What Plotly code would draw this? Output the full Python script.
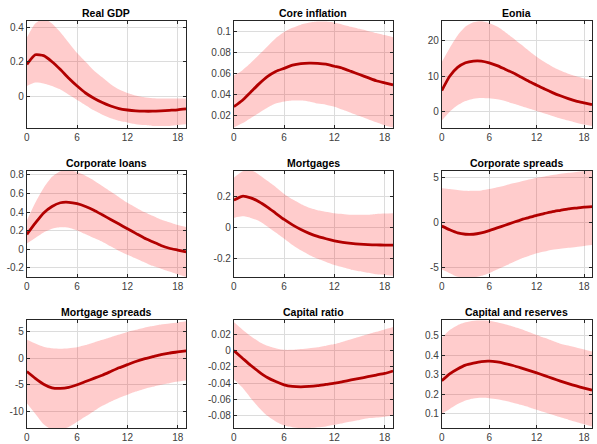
import plotly.graph_objects as go

horizon = list(range(20))

titles = ["Real GDP", "Core inflation", "Eonia",
          "Corporate loans", "Mortgages", "Corporate spreads",
          "Mortgage spreads", "Capital ratio", "Capital and reserves"]

gdp_mid = [0.185, 0.24, 0.235, 0.2, 0.155, 0.105, 0.06, 0.02, -0.01, -0.035, -0.055, -0.07, -0.078, -0.083, -0.085, -0.085, -0.083, -0.08, -0.077, -0.072]
gdp_hi = [0.34, 0.42, 0.45, 0.42, 0.37, 0.31, 0.25, 0.2, 0.15, 0.11, 0.07, 0.04, 0.02, 0.005, -0.005, -0.01, -0.012, -0.012, -0.012, -0.012]
gdp_lo = [0.06, 0.08, 0.075, 0.06, 0.04, 0.01, -0.02, -0.05, -0.08, -0.105, -0.125, -0.14, -0.15, -0.16, -0.165, -0.17, -0.17, -0.17, -0.165, -0.16]

inf_mid = [0.028, 0.034, 0.042, 0.05, 0.057, 0.062, 0.065, 0.068, 0.0695, 0.07, 0.0698, 0.069, 0.067, 0.065, 0.062, 0.059, 0.056, 0.053, 0.051, 0.049]
inf_hi = [0.058, 0.063, 0.07, 0.078, 0.086, 0.094, 0.1, 0.104, 0.107, 0.109, 0.11, 0.11, 0.109, 0.107, 0.105, 0.103, 0.101, 0.099, 0.097, 0.095]
inf_lo = [0.008, 0.012, 0.017, 0.022, 0.027, 0.031, 0.033, 0.034, 0.034, 0.033, 0.031, 0.03, 0.028, 0.025, 0.022, 0.019, 0.016, 0.013, 0.01, 0.008]

eon_mid = [6, 10, 12.5, 13.8, 14.3, 14.3, 13.8, 13, 12, 11, 9.8, 8.6, 7.5, 6.4, 5.4, 4.5, 3.7, 3, 2.5, 2]
eon_hi = [14, 18, 21.5, 24, 25.2, 25.5, 25, 24, 22.5, 20.8, 19, 17.2, 15.5, 14, 12.7, 11.6, 10.7, 10, 9.4, 9]
eon_lo = [-2.5, 0, 1.8, 3, 3.7, 3.9, 3.8, 3.5, 3, 2.3, 1.6, 0.9, 0.2, -0.5, -1.2, -1.9, -2.5, -3.1, -3.6, -4]

cl_mid = [0.16, 0.28, 0.39, 0.46, 0.5, 0.505, 0.49, 0.46, 0.42, 0.37, 0.32, 0.27, 0.22, 0.17, 0.12, 0.08, 0.04, 0.01, -0.01, -0.03]
cl_hi = [0.31, 0.5, 0.66, 0.78, 0.84, 0.85, 0.83, 0.79, 0.74, 0.68, 0.62, 0.56, 0.5, 0.45, 0.4, 0.36, 0.32, 0.29, 0.26, 0.24]
cl_lo = [0.06, 0.12, 0.18, 0.22, 0.235, 0.23, 0.2, 0.16, 0.12, 0.08, 0.03, -0.02, -0.06, -0.1, -0.14, -0.18, -0.21, -0.24, -0.27, -0.3]

mo_mid = [0.175, 0.2, 0.19, 0.165, 0.13, 0.09, 0.05, 0.015, -0.015, -0.04, -0.06, -0.075, -0.088, -0.098, -0.105, -0.11, -0.113, -0.115, -0.116, -0.116]
mo_hi = [0.32, 0.36, 0.37, 0.34, 0.3, 0.26, 0.215, 0.18, 0.15, 0.125, 0.11, 0.1, 0.09, 0.085, 0.08, 0.08, 0.08, 0.085, 0.088, 0.09]
mo_lo = [0.06, 0.07, 0.06, 0.04, 0.005, -0.035, -0.075, -0.115, -0.15, -0.18, -0.205, -0.225, -0.245, -0.26, -0.275, -0.285, -0.295, -0.305, -0.31, -0.315]

cs_mid = [-0.4, -0.8, -1.15, -1.3, -1.3, -1.15, -0.9, -0.6, -0.3, 0, 0.3, 0.55, 0.8, 1.0, 1.2, 1.35, 1.5, 1.6, 1.7, 1.75]
cs_hi = [3.8, 3.7, 3.6, 3.5, 3.5, 3.55, 3.7, 3.9, 4.1, 4.35, 4.55, 4.75, 4.95, 5.1, 5.25, 5.4, 5.5, 5.6, 5.7, 5.75]
cs_lo = [-5.2, -5.6, -6.0, -6.1, -6.1, -5.9, -5.6, -5.2, -4.8, -4.4, -4.0, -3.7, -3.4, -3.2, -3.0, -2.9, -2.8, -2.7, -2.6, -2.5]

ms_mid = [-2.5, -3.8, -4.9, -5.6, -5.7, -5.5, -5.0, -4.4, -3.8, -3.2, -2.5, -1.8, -1.2, -0.6, -0.1, 0.3, 0.7, 1.0, 1.2, 1.4]
ms_hi = [3.5, 2.8, 2.2, 1.9, 1.8, 1.9, 2.1, 2.5, 3.0, 3.5, 4.0, 4.5, 5.0, 5.4, 5.8, 6.1, 6.4, 6.6, 6.8, 7.0]
ms_lo = [-8.5, -10.5, -12.5, -13.5, -13.5, -13, -12, -11, -10, -9, -8.2, -7.5, -6.9, -6.3, -5.8, -5.4, -5.0, -4.7, -4.4, -4.2]

cr_mid = [0.0, -0.009, -0.018, -0.026, -0.033, -0.038, -0.042, -0.044, -0.0445, -0.044, -0.043, -0.0415, -0.04, -0.038, -0.036, -0.034, -0.032, -0.03, -0.028, -0.025]
cr_hi = [0.035, 0.026, 0.018, 0.011, 0.006, 0.003, 0.001, 0.001, 0.002, 0.003, 0.004, 0.006, 0.008, 0.011, 0.014, 0.017, 0.02, 0.023, 0.026, 0.029]
cr_lo = [-0.035, -0.045, -0.058, -0.07, -0.08, -0.087, -0.092, -0.094, -0.095, -0.095, -0.094, -0.093, -0.091, -0.089, -0.087, -0.085, -0.083, -0.082, -0.081, -0.08]

car_mid = [0.27, 0.305, 0.33, 0.35, 0.36, 0.368, 0.37, 0.366, 0.358, 0.348, 0.336, 0.323, 0.31, 0.296, 0.282, 0.268, 0.255, 0.243, 0.232, 0.222]
car_hi = [0.49, 0.53, 0.555, 0.57, 0.578, 0.58, 0.578, 0.57, 0.56, 0.548, 0.535, 0.52, 0.505, 0.49, 0.475, 0.46, 0.45, 0.44, 0.43, 0.42]
car_lo = [0.1, 0.125, 0.15, 0.168, 0.178, 0.182, 0.18, 0.175, 0.167, 0.157, 0.146, 0.134, 0.121, 0.108, 0.095, 0.082, 0.07, 0.058, 0.046, 0.035]

y_ranges = [[-0.18, 0.435], [0.0078, 0.1106], [-4.5, 25.6],
            [-0.304, 0.846], [-0.325, 0.366], [-6.07, 5.74],
            [-13.2, 7.2], [-0.095, 0.0372], [0.027, 0.58]]
y_ticks = [[0, 0.2, 0.4], [0.02, 0.04, 0.06, 0.08, 0.1], [0, 10, 20],
           [-0.2, 0, 0.2, 0.4, 0.6, 0.8], [-0.2, 0, 0.2], [-5, 0, 5],
           [-10, -5, 0, 5], [-0.08, -0.06, -0.04, -0.02, 0, 0.02], [0.1, 0.2, 0.3, 0.4, 0.5]]
x_ticks = [0, 6, 12, 18]

series = [(gdp_mid, gdp_hi, gdp_lo), (inf_mid, inf_hi, inf_lo), (eon_mid, eon_hi, eon_lo),
          (cl_mid, cl_hi, cl_lo), (mo_mid, mo_hi, mo_lo), (cs_mid, cs_hi, cs_lo),
          (ms_mid, ms_hi, ms_lo), (cr_mid, cr_hi, cr_lo), (car_mid, car_hi, car_lo)]

W, H = 597, 444
col_px = [(24, 184), (232, 392), (441, 592)]
row_px = [(20, 127), (170, 277), (320, 428)]

LINE = "rgb(178,0,0)"
BAND = "rgba(255,0,0,0.2)"
AX = "#262626"
FONT = "Liberation Sans, Arial, sans-serif"

fig = go.Figure()
layout = dict(width=W, height=H, margin=dict(l=0, r=0, t=0, b=0),
              paper_bgcolor="white", plot_bgcolor="white", showlegend=False,
              font=dict(family=FONT, size=10, color=AX), annotations=[])

def fmt(v):
    return f"{v:g}"

for i, (mid, hi, lo) in enumerate(series):
    r, c = divmod(i, 3)
    n = i + 1
    xa = "x" if n == 1 else f"x{n}"
    ya = "y" if n == 1 else f"y{n}"
    fig.add_trace(go.Scatter(x=horizon, y=lo, mode="lines",
                             line=dict(width=0, shape="spline", smoothing=0.6),
                             hoverinfo="skip", xaxis=xa, yaxis=ya))
    fig.add_trace(go.Scatter(x=horizon, y=hi, mode="lines", fill="tonexty",
                             fillcolor=BAND,
                             line=dict(width=0, shape="spline", smoothing=0.6),
                             hoverinfo="skip", xaxis=xa, yaxis=ya))
    fig.add_trace(go.Scatter(x=horizon, y=mid, mode="lines",
                             line=dict(color=LINE, width=2.8, shape="spline", smoothing=0.5),
                             xaxis=xa, yaxis=ya))
    x0, x1 = col_px[c]
    y0, y1 = row_px[r]
    common = dict(showline=True, linecolor=AX, linewidth=1, mirror="ticks",
                  ticks="inside", ticklen=3, tickcolor=AX, showgrid=True,
                  gridcolor="#dcdcdc", gridwidth=1, zeroline=False,
                  tickfont=dict(family=FONT, size=10, color="#404040"))
    layout["xaxis" if n == 1 else f"xaxis{n}"] = dict(
        domain=[x0 / W, x1 / W], range=[0, 19], anchor=ya,
        tickvals=x_ticks, ticktext=[fmt(v) for v in x_ticks], **common)
    layout["yaxis" if n == 1 else f"yaxis{n}"] = dict(
        domain=[1 - y1 / H, 1 - y0 / H], range=y_ranges[i], anchor=xa,
        tickvals=y_ticks[i], ticktext=[fmt(v) for v in y_ticks[i]], **common)
    layout["annotations"].append(dict(
        text=f"<b>{titles[i]}</b>", x=(x0 + x1) / 2 / W, y=1 - y0 / H,
        xref="paper", yref="paper", xanchor="center", yanchor="bottom",
        showarrow=False, font=dict(family=FONT, size=10.5, color="black")))

fig.update_layout(**layout)
fig.write_html("out.html")
